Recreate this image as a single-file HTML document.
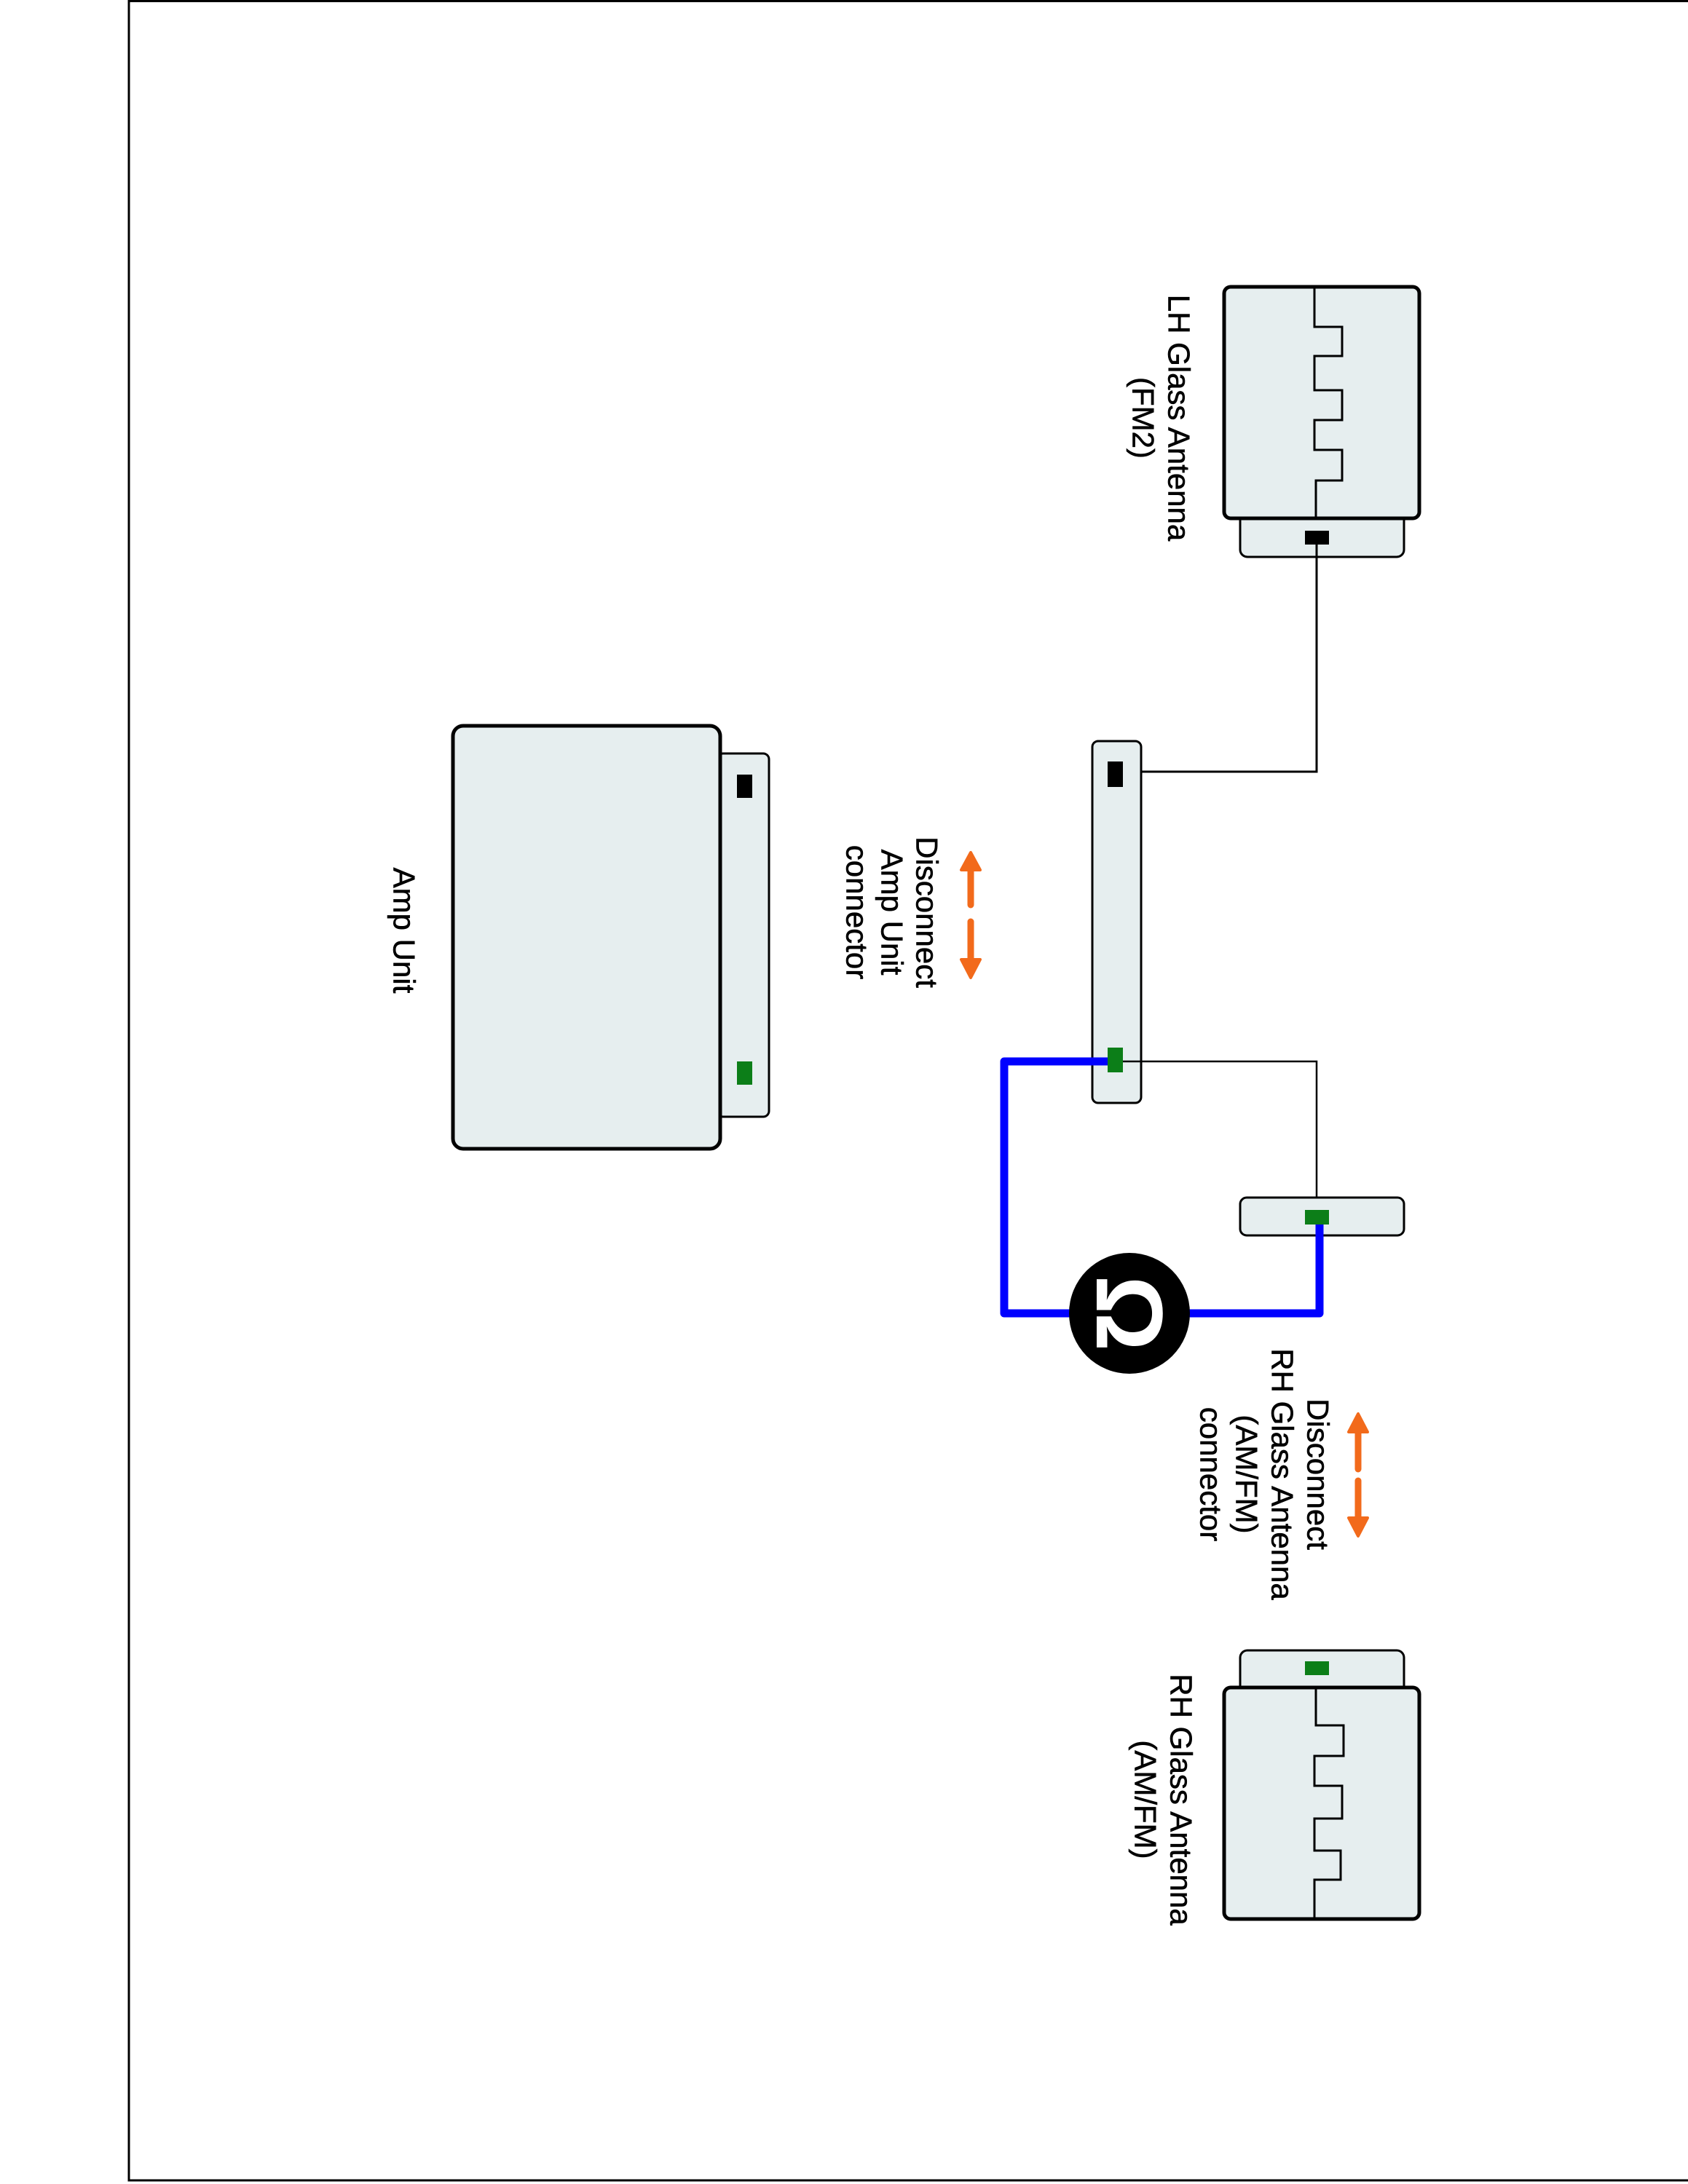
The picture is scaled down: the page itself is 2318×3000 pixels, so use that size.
<!DOCTYPE html>
<html><head><meta charset="utf-8"><style>
html,body{margin:0;padding:0;background:#fff;}
svg{display:block;}
text{font-family:"Liberation Sans",Arial,sans-serif;fill:#000;}
</style></head><body>
<svg width="2318" height="3000" viewBox="0 0 2318 3000" xmlns="http://www.w3.org/2000/svg">
<polyline points="2318,1.5 177,1.5 177,2995 2318,2995" fill="none" stroke="#000" stroke-width="3"/>

<!-- LH antenna -->
<rect x="1703" y="700" width="225" height="65" rx="10" fill="#e6eeef" stroke="#000" stroke-width="3"/>
<rect x="1681" y="394" width="268" height="318" rx="9" fill="#e6eeef" stroke="#000" stroke-width="5"/>
<polyline points="1805,396 1805,449 1843,449 1843,489 1805,489 1805,536 1843,536 1843,577 1805,577 1805,618 1843,618 1843,660 1807,660 1807,710" fill="none" stroke="#000" stroke-width="3"/>
<rect x="1792" y="729" width="33" height="19" fill="#000"/>
<polyline points="1808,748 1808,1060 1532,1060" fill="none" stroke="#000" stroke-width="3"/>

<!-- middle connector -->
<rect x="1500" y="1018" width="67" height="497" rx="8" fill="#e6eeef" stroke="#000" stroke-width="3"/>
<rect x="1521" y="1046" width="21" height="35" fill="#000"/>
<polyline points="1542,1458 1808,1458 1808,1672" fill="none" stroke="#000" stroke-width="2.5"/>

<!-- RH small bar -->
<rect x="1703" y="1645" width="225" height="52" rx="9" fill="#e6eeef" stroke="#000" stroke-width="3"/>

<!-- blue wires -->
<polyline points="1530,1458 1379,1458 1379,1804 1812,1804 1812,1682" fill="none" stroke="#0000ff" stroke-width="11" stroke-linejoin="round"/>
<rect x="1521" y="1439" width="21" height="34" fill="#0c7e18"/>
<rect x="1792" y="1662" width="33" height="20" fill="#0c7e18"/>

<!-- ohm circle -->
<circle cx="1551" cy="1804" r="83" fill="#000"/>
<text x="1551" y="1804" transform="rotate(90 1551 1804)" text-anchor="middle" dominant-baseline="central" font-size="130" font-weight="bold" style="fill:#fff">Ω</text>

<!-- Amp unit -->
<rect x="985" y="1035" width="71" height="499" rx="8" fill="#e6eeef" stroke="#000" stroke-width="3"/>
<rect x="622" y="997" width="367" height="581" rx="14" fill="#e6eeef" stroke="#000" stroke-width="5"/>
<rect x="1012" y="1064" width="21" height="32" fill="#000"/>
<rect x="1012" y="1458" width="21" height="32" fill="#0c7e18"/>

<!-- RH antenna -->
<rect x="1703" y="2267" width="225" height="62" rx="10" fill="#e6eeef" stroke="#000" stroke-width="3"/>
<rect x="1681" y="2318" width="268" height="318" rx="9" fill="#e6eeef" stroke="#000" stroke-width="5"/>
<polyline points="1807,2320 1807,2370 1845,2370 1845,2412 1805,2412 1805,2453 1843,2453 1843,2498 1805,2498 1805,2542 1841,2542 1841,2582 1805,2582 1805,2634" fill="none" stroke="#000" stroke-width="3"/>
<rect x="1792" y="2282" width="33" height="19" fill="#0c7e18"/>

<!-- arrows -->
<g fill="#f26a1b" stroke="#f26a1b">
<line x1="1333" y1="1243" x2="1333" y2="1195" stroke-width="9" stroke-linecap="round"/>
<polygon points="1333,1171 1320,1195 1346,1195" stroke-width="4" stroke-linejoin="round"/>
<line x1="1333" y1="1266" x2="1333" y2="1318" stroke-width="9" stroke-linecap="round"/>
<polygon points="1333,1343 1320,1318 1346,1318" stroke-width="4" stroke-linejoin="round"/>
<line x1="1865" y1="2018" x2="1865" y2="1967" stroke-width="9" stroke-linecap="round"/>
<polygon points="1865,1942 1852,1967 1878,1967" stroke-width="4" stroke-linejoin="round"/>
<line x1="1865" y1="2034" x2="1865" y2="2085" stroke-width="9" stroke-linecap="round"/>
<polygon points="1865,2110 1852,2085 1878,2085" stroke-width="4" stroke-linejoin="round"/>
</g>

<!-- labels -->
<g font-size="42" text-anchor="middle" dominant-baseline="central" stroke="#000" stroke-width="0.6">
<text x="1619" y="574" transform="rotate(90 1619 574)">LH Glass Antenna</text>
<text x="1570" y="574" transform="rotate(90 1570 574)">(FM2)</text>
<text x="555" y="1278" transform="rotate(90 555 1278)">Amp Unit</text>
<text x="1273" y="1253" transform="rotate(90 1273 1253)">Disconnect</text>
<text x="1225" y="1253" transform="rotate(90 1225 1253)">Amp Unit</text>
<text x="1177" y="1253" transform="rotate(90 1177 1253)">connector</text>
<text x="1810" y="2025" transform="rotate(90 1810 2025)">Disconnect</text>
<text x="1761" y="2025" transform="rotate(90 1761 2025)">RH Glass Antenna</text>
<text x="1712" y="2025" transform="rotate(90 1712 2025)">(AM/FM)</text>
<text x="1663" y="2025" transform="rotate(90 1663 2025)">connector</text>
<text x="1622" y="2472" transform="rotate(90 1622 2472)">RH Glass Antenna</text>
<text x="1573" y="2472" transform="rotate(90 1573 2472)">(AM/FM)</text>
</g>
</svg>
</body></html>
